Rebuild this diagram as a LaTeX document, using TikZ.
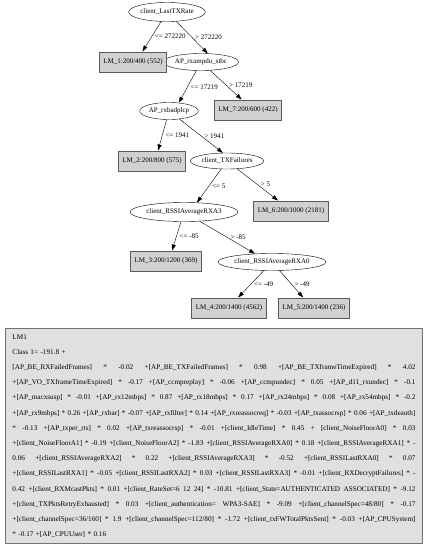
\documentclass[tikz,border=0pt]{standalone}
\usepackage{fontspec}
\setmainfont{Liberation Serif}
\usetikzlibrary{shapes.geometric,arrows.meta}
\newcommand\jline[1]{\leavevmode\hbox to 403pt{\spaceskip=.25em plus 1fil minus .1em\relax #1}}
\begin{document}
\begin{tikzpicture}[x=1pt, y=-1pt, font=\fontsize{7}{8}\selectfont, line join=round, >={Triangle[length=6pt,width=4pt]},
	split/.style={draw, ellipse, fill=white, inner xsep=0.5pt, inner ysep=1pt, minimum height=17pt},
	leaf/.style={draw=black!65, line width=1pt, fill=black!18, minimum height=20pt, inner xsep=4pt},
	cond/.style={right, inner sep=3pt}]
	\useasboundingbox (0,0) rectangle (428,550);
	% split nodes
	\node[split, minimum height=19pt] (lastTX) at (167,12) {client\_LastTXRate};
	\node[split] (stbc) at (201,62) {AP\_rxampdu\_stbc};
	\node[split] (plcp) at (169,111) {AP\_rxbadplcp};
	\node[split, minimum height=16pt] (txfail) at (227,161) {client\_TXFailures};
	\node[split, minimum height=19pt] (rxa3) at (184,212) {client\_RSSIAverageRXA3};
	\node[split] (rxa0) at (272,262) {client\_RSSIAverageRXA0};
	% leaf models
	\node[leaf] (lm1) at (133,62) {LM\_1:200/400 (552)};
	\node[leaf] (lm7) at (248,110) {LM\_7:200/600 (422)};
	\node[leaf] (lm2) at (152,161) {LM\_2:200/800 (575)};
	\node[leaf] (lm6) at (291,211) {LM\_6:200/1000 (2181)};
	\node[leaf] (lm3) at (166,261) {LM\_3:200/1200 (369)};
	\node[leaf] (lm4) at (229,308) {LM\_4:200/1400 (4562)};
	\node[leaf] (lm5) at (314,308) {LM\_5:200/1400 (236)};
	
	\foreach \a/\b/\t in {lastTX/lm1.48/{<= 272220},lastTX/stbc.52/{> 272220},stbc/plcp.40/{<= 17219},stbc/lm7.121/{> 17219},
		plcp/lm2.60/{<= 1941},plcp/txfail.117/{> 1941},txfail/rxa3.36/{<= 5},txfail/lm6.141/{> 5},
		rxa3/lm3.60/{<= -85},rxa3/rxa0.154/{> -85},rxa0/lm4.49/{<= -49},rxa0/lm5.136/{> -49}}
		\draw[->] (\a) -- (\b) node[cond, midway] {\t};
	
	% linear model LM1
	\node[draw=black!55, line width=1pt, fill=black!12, anchor=north west, minimum width=417pt, minimum height=215pt,
		text width=403pt, inner xsep=7pt, align=left, font=\fontsize{7.2}{15.2}\selectfont] (lmtext) at (5,328) {%
		LM1\\
		Class 1= -191.8 +\\
		\jline{[AP\_BE\_RXFailedFrames] * -0.02 +[AP\_BE\_TXFailedFrames] * 0.98 +[AP\_BE\_TXframeTimeExpired] * 4.02}\\
		\jline{+[AP\_VO\_TXframeTimeExpired] * -0.17 +[AP\_ccmpreplay] * -0.06 +[AP\_ccmpundec] * 0.05 +[AP\_d11\_rxundec] * -0.1}\\
		\jline{+[AP\_macxsusp] * -0.01 +[AP\_rx12mbps] * 0.87 +[AP\_rx18mbps] * 0.17 +[AP\_rx24mbps] * 0.08 +[AP\_rx54mbps] * -0.2}\\
		\jline{+[AP\_rx9mbps] * 0.26 +[AP\_rxbar] * -0.07 +[AP\_rxfilter] * 0.14 +[AP\_rxreassocreq] * -0.03 +[AP\_txassocrsp] * 0.06 +[AP\_txdeauth]}\\
		\jline{* -0.13 +[AP\_txper\_rts] * 0.02 +[AP\_txreassocrsp] * -0.01 +[client\_IdleTime] * 0.45 + [client\_NoiseFloorA0] * 0.03}\\
		\jline{+[client\_NoiseFloorA1] * -0.19 +[client\_NoiseFloorA2] * -1.83 +[client\_RSSIAverageRXA0] * 0.18 +[client\_RSSIAverageRXA1] * -}\\
		\jline{0.06 +[client\_RSSIAverageRXA2] * 0.22 +[client\_RSSIAverageRXA3] * -0.52 +[client\_RSSILastRXA0] * 0.07}\\
		\jline{+[client\_RSSILastRXA1] * -0.05 +[client\_RSSILastRXA2] * 0.03 +[client\_RSSILastRXA3] * -0.01 +[client\_RXDecryptFailures] * -}\\
		\jline{0.42 +[client\_RXMcastPkts] * 0.01 +[client\_RateSet=6 12 24] * -10.81 +[client\_State=AUTHENTICATED ASSOCIATED] * -9.12}\\
		\jline{+[client\_TXPktsRetryExhausted] * 0.03 +[client\_authentication= WPA3-SAE] * -9.09 +[client\_channelSpec=48/80] * -0.17}\\
		\jline{+[client\_channelSpec=36/160] * 1.9 +[client\_channelSpec=112/80] * -1.72 +[client\_txFWTotalPktsSent] * -0.03 +[AP\_CPUSystem]}\\
		{}* -0.17 +[AP\_CPUUser] * 0.16};
\end{tikzpicture}
\end{document}
